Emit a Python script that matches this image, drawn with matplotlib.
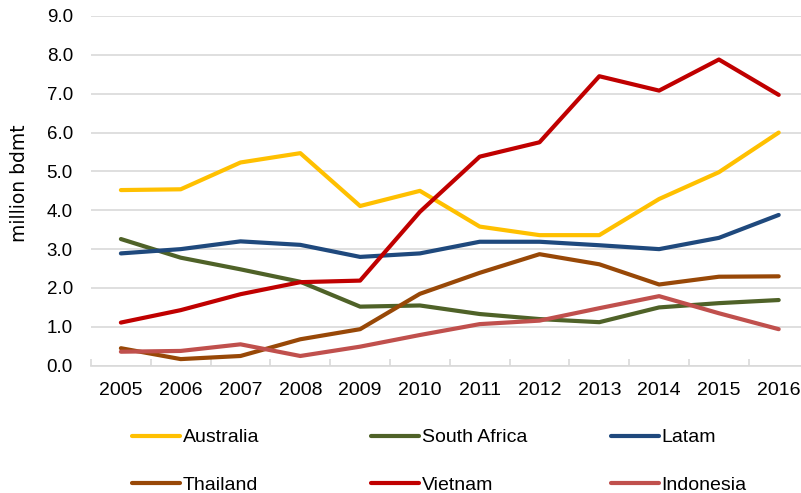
import matplotlib
matplotlib.use("Agg")
import matplotlib.pyplot as plt
from matplotlib.lines import Line2D
from matplotlib.ticker import FixedLocator, NullFormatter

plt.rcParams['font.family'] = ['Liberation Sans', 'DejaVu Sans']

years = ['2005', '2006', '2007', '2008', '2009', '2010',
         '2011', '2012', '2013', '2014', '2015', '2016']

australia = [4.52, 4.54, 5.23, 5.47, 4.11, 4.50, 3.58, 3.36, 3.36, 4.29, 4.98, 6.00]
south_africa = [3.26, 2.78, 2.48, 2.16, 1.52, 1.55, 1.33, 1.20, 1.12, 1.50, 1.61, 1.69]
latam = [2.89, 3.00, 3.20, 3.11, 2.80, 2.89, 3.19, 3.19, 3.10, 3.00, 3.29, 3.88]
thailand = [0.45, 0.17, 0.25, 0.68, 0.94, 1.85, 2.39, 2.87, 2.61, 2.09, 2.29, 2.30]
vietnam = [1.11, 1.43, 1.84, 2.15, 2.19, 3.96, 5.38, 5.75, 7.45, 7.08, 7.88, 6.97]
indonesia = [0.36, 0.38, 0.55, 0.25, 0.49, 0.79, 1.07, 1.16, 1.48, 1.79, 1.35, 0.94]

series = [
    ('Australia', australia, '#FFC000'),
    ('South Africa', south_africa, '#4F6228'),
    ('Latam', latam, '#1F497D'),
    ('Thailand', thailand, '#984807'),
    ('Vietnam', vietnam, '#C00000'),
    ('Indonesia', indonesia, '#C0504D'),
]

W, H = 801, 493
fig = plt.figure(figsize=(W / 100, H / 100), dpi=100)

# plot area in pixel coordinates
x0, x1 = 91, 808.6
y_top, y_bot = 16, 365.7
ax = fig.add_axes([x0 / W, 1 - y_bot / H, (x1 - x0) / W, (y_bot - y_top) / H])

xs = list(range(len(years)))
handles = {}
for name, vals, col in series:
    ln, = ax.plot(xs, vals, color=col, lw=3.0,
                  solid_capstyle='round', solid_joinstyle='round',
                  clip_on=False)
    handles[name] = ln

ax.set_xlim(-0.5, len(years) - 0.5)
ax.set_ylim(0, 9)

ax.set_yticks([i for i in range(10)])
ax.set_yticklabels([f'{i:.1f}' for i in range(10)])
ax.yaxis.grid(True, color='#D9D9D9', lw=1.2)
ax.set_axisbelow(True)
ax.tick_params(axis='y', length=0, pad=13, labelsize=13.5, colors='#000000')

ax.set_xticks(xs)
ax.set_xticklabels(years)
ax.xaxis.set_minor_locator(FixedLocator([i - 0.5 for i in range(len(years) + 1)]))
ax.xaxis.set_minor_formatter(NullFormatter())
ax.tick_params(axis='x', which='major', length=0, pad=12, labelsize=14)
ax.tick_params(axis='x', which='minor', direction='in', length=5,
               width=1.2, color='#D9D9D9')

for s in ('left', 'right', 'top'):
    ax.spines[s].set_visible(False)
ax.spines['bottom'].set_color('#D9D9D9')
ax.spines['bottom'].set_linewidth(1.2)

fig.text(19.5 / W, 1 - 183.5 / H, 'million bdmt', rotation=90,
         ha='center', va='center', fontsize=13.5, family='DejaVu Sans')

# legend: 3 columns x 2 rows placed at fixed positions
col_x = [132, 371, 611]
row_y = [437.5, 485]
layout = [['Australia', 'South Africa', 'Latam'],
          ['Thailand', 'Vietnam', 'Indonesia']]
for r, row in enumerate(layout):
    for c, name in enumerate(row):
        h = handles[name]
        proxy = Line2D([], [], color=h.get_color(), lw=3.0,
                       solid_capstyle='round')
        fig.legend([proxy], [name], loc='center left',
                   bbox_to_anchor=(col_x[c] / W, 1 - row_y[r] / H),
                   frameon=False, fontsize=14, handlelength=2.45,
                   handletextpad=0.15, borderpad=0, borderaxespad=0)

fig.savefig('out.png', dpi=100)
